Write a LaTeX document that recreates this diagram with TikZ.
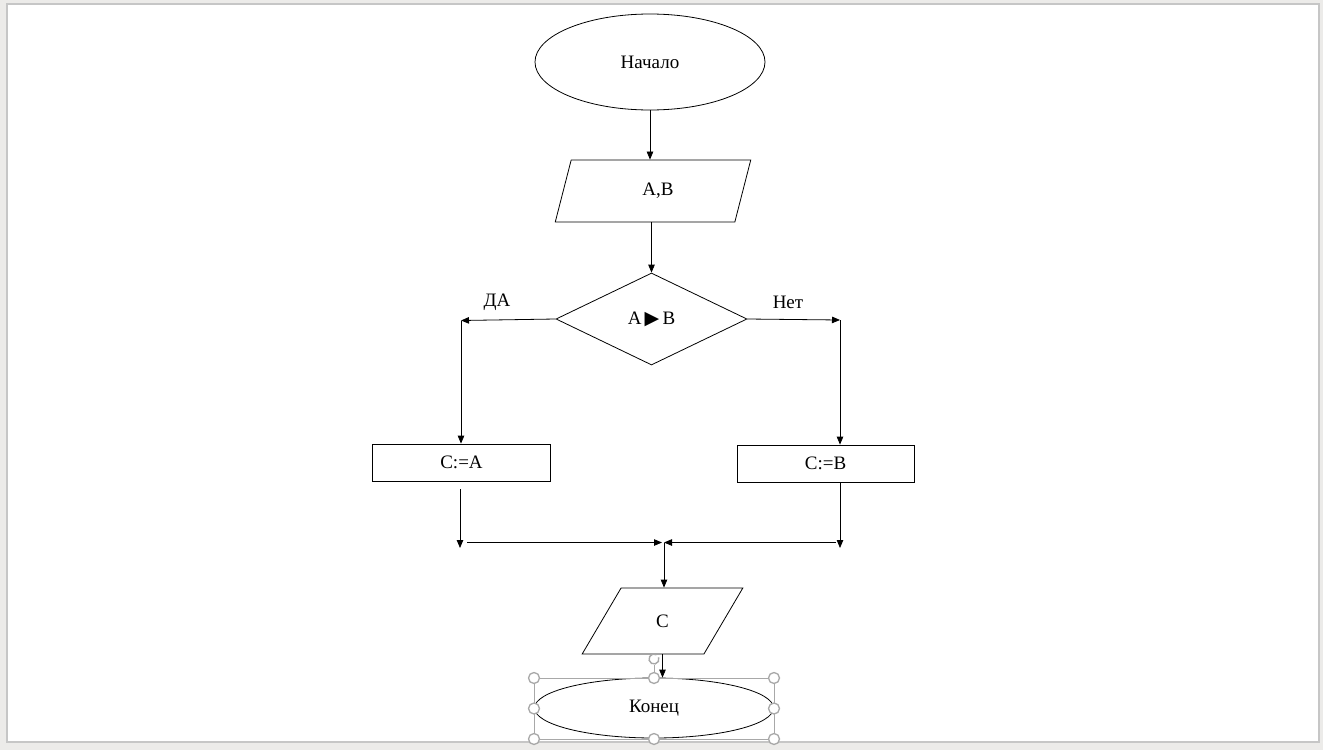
\documentclass[tikz,border=0pt]{standalone}
\usepackage{fontspec}
\setmainfont{Liberation Serif}
\newfontfamily\symfont{DejaVu Sans}
\usetikzlibrary{shapes.geometric,arrows.meta}

\definecolor{slidegray}{HTML}{ECEBE9}
\definecolor{framegray}{HTML}{C6C6C6}
\definecolor{handlegray}{HTML}{A8A8A8}

\tikzset{
  block/.style={draw, line width=0.8pt, fill=white, inner sep=0pt, font=\fontsize{19}{21}\selectfont},
  term/.style={block, ellipse},
  iobox/.style={block, trapezium, trapezium stretches=true},
  cond/.style={block, diamond},
  act/.style={block, rectangle},
  lbl/.style={font=\fontsize{19}{21}\selectfont},
  arr/.style={line width=0.8pt, -{Triangle[length=8pt,width=6.5pt]}},
  handle/.style={circle, draw=handlegray, fill=white, line width=1.3pt, inner sep=0pt, minimum size=11pt},
}

\begin{document}
\begin{tikzpicture}[x=1pt,y=-1pt]
    % slide
    \fill[slidegray] (0,0) rectangle (1323,750);
    \draw[framegray, fill=white, line width=1.2pt] (7,4) rectangle (1319,742);
    \useasboundingbox (0,0) rectangle (1323,750);
    % blocks
    \node[term, minimum width=230pt, minimum height=96pt] (start) at (650,62) {Начало};
    \node[iobox, minimum width=196pt, minimum height=62pt, trapezium left angle=75.5, trapezium right angle=104.5] (ab) at (653,191) {\hspace{10pt}A,B};
    \node[cond, minimum width=191pt, minimum height=92pt] (test) at (651.5,319) {A\,{\symfont ▶}\,B};
    \node[act, minimum width=178pt, minimum height=37pt] (ca) at (461.5,462.5) {C:=A};
    \node[act, minimum width=177pt, minimum height=37pt] (cb) at (825.5,463.5) {C:=B};
    \node[iobox, minimum width=161pt, minimum height=66pt, trapezium left angle=65, trapezium right angle=115] (out) at (662.5,621) {C};
    \node[term, minimum width=239pt, minimum height=60pt] (stop) at (654,708) {Конец};
    % branch labels
    \node[lbl] (yes) at (497,302) {ДА};
    \node[lbl] (no) at (788,302) {Нет};
    % turning points
    \coordinate (yesturn) at (461,320.5);
    \coordinate (noturn) at (840,320);
    \coordinate (yesfoot) at (460,548);
    \coordinate (nofoot) at (840,548);
    \coordinate (yesjoin) at (467,542.5);
    \coordinate (nojoin) at (836,542.5);
    \coordinate (mergel) at (662,542.5);
    \coordinate (merger) at (664,542.5);
    % connectors
    \draw[arr] (start.south) -- (start.south |- ab.north);
    \draw[arr] (ab.south -| test.north) -- (test.north);
    \draw[arr] (test.west) -- (yesturn);
    \draw[arr] (yesturn) -- (yesturn |- ca.north);
    \draw[arr] (test.east) -- (noturn);
    \draw[arr] (noturn) -- (noturn |- cb.north);
    \draw[arr] ([yshift=-8pt]ca.south -| yesfoot) -- (yesfoot);
    \draw[arr] (cb.south -| nofoot) -- (nofoot);
    \draw[arr] (yesjoin) -- (mergel);
    \draw[arr] (nojoin) -- (merger);
    \draw[arr] (merger) -- (merger |- out.north);
    \draw[arr] (out.south) -- (out.south |- stop.north);
    % selection handles
    \draw[handlegray, line width=1pt] (534,678) rectangle (774,739);
    \draw[handlegray, line width=1pt] (654,665) -- (654,678);
    \draw[handlegray, line width=1.4pt] (654,659) ++(60:5pt) arc[start angle=60, end angle=380, radius=5pt];
    \foreach \hx/\hy in {534/678,654/678,774/678,534/708.5,774/708.5,534/739,654/739,774/739}
        \node[handle] at (\hx,\hy) {};
\end{tikzpicture}
\end{document}
